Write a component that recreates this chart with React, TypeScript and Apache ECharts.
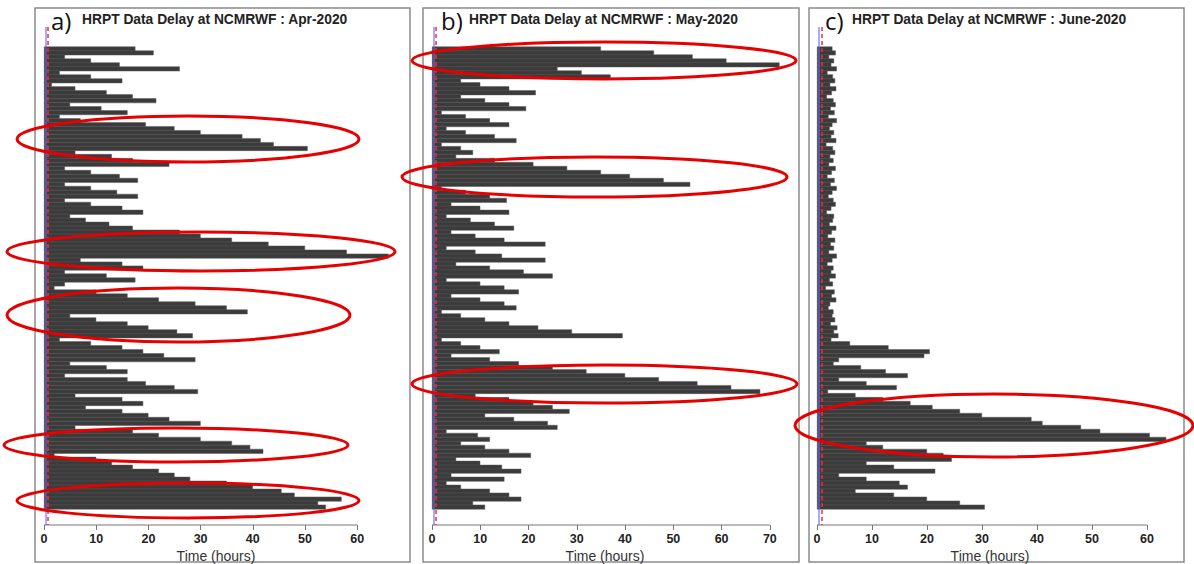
import React, { useEffect, useRef } from "react";
import * as echarts from "echarts";

// Delay (hours) of each received HRPT file, top to bottom
const delaysApr = [
  17.5, 21, 4, 9, 14.5, 26, 3, 9, 15, 1.5,
  6, 12, 17, 21.5, 5, 11, 16, 3, 7, 19.5,
  25, 30, 38, 41.5, 44, 50.5, 6, 13, 17, 24,
  4, 9, 14.5, 18, 4, 9, 14, 18, 4, 9,
  15, 19, 5, 8, 12.5, 17, 26, 30, 36, 43,
  50, 58, 66, 7, 15, 19, 4, 12, 17.5, 4,
  2, 10, 16, 22, 29, 35, 39, 5, 10, 16,
  20, 25.5, 28.5, 3, 9, 15, 19, 23, 29, 5,
  12, 16, 4, 16, 19.5, 25, 29.5, 6, 15, 19,
  8, 15, 20, 24, 30, 6, 17, 22, 30, 36,
  39.5, 42, 2, 10, 13, 17, 22, 25, 28, 35,
  40, 45.5, 48, 57, 52.5, 54,
];
const delaysMay = [
  35, 46, 54, 61, 72, 26, 31, 37, 6, 10,
  16, 21.5, 6, 11, 16, 19.5, 2, 7, 12, 16,
  3, 7, 13, 17.5, 2, 6, 8.5, 5, 13, 21,
  28, 35, 41, 48, 53.5, 2, 7, 12, 15.5, 4,
  10, 16, 3, 8, 13, 17, 4, 9, 15, 23.5,
  3, 9, 14.5, 23.5, 5, 12, 19, 25, 3, 10,
  15, 18, 4, 10, 15, 17.5, 2, 6, 11, 16,
  22, 29, 39.5, 2, 6, 10, 14, 4, 12, 18,
  25, 32, 40, 47, 55, 62, 68, 9, 16, 21,
  25, 28.5, 11, 17, 24, 26, 3, 9.5, 12, 6,
  11, 16, 20.5, 5, 10, 14.5, 18.5, 4, 15, 3,
  6, 12, 16, 18.5, 8.5, 11,
];
const delaysJun = [
  2.8, 3.4, 2.2, 3.1, 2.6, 3.6, 1.9, 2.9, 3.3, 2.4,
  3.5, 2.7, 1.8, 3.0, 3.4, 2.5, 3.2, 2.1, 3.6, 2.8,
  2.3, 3.1, 2.6, 3.5, 1.7, 2.9, 3.3, 2.4, 3.0, 2.2,
  3.4, 2.7, 1.9, 3.2, 2.5, 3.6, 2.8, 2.1, 3.0, 3.4,
  2.6, 1.8, 3.1, 2.9, 2.3, 3.5, 2.7, 2.0, 3.3, 2.5,
  3.1, 2.2, 3.6, 2.8, 1.9, 3.0, 2.6, 3.4, 2.3, 2.9,
  1.6, 3.2, 2.7, 3.5, 2.4, 2.1, 3.0, 2.8, 3.3, 2.5,
  3.7, 3.1, 3.9, 2.6,
  6, 13, 20.5, 19.5, 4, 3, 8, 12.5, 16.5, 4,
  9, 14.5, 2, 7, 12, 17, 21, 26, 30, 39,
  41, 48, 51.5, 60.5, 63.5, 9, 12, 20, 23, 24.5,
  9, 14, 21.5, 4, 9, 15, 16.5, 7, 14, 20,
  26, 30.5,
];

const titles = [
  "HRPT Data Delay at NCMRWF : Apr-2020",
  "HRPT Data Delay at NCMRWF : May-2020",
  "HRPT Data Delay at NCMRWF : June-2020",
];
const panelTags = ["a)", "b)", "c)"];
const ticksApr = [0, 10, 20, 30, 40, 50, 60];
const ticksMay = [0, 10, 20, 30, 40, 50, 60, 70];
const ticksJun = [0, 10, 20, 30, 40, 50, 60];
const xAxisName = "Time (hours)";
const refLineBlue = 0.3;
const refLineRed = 0.8;

const PAD_TOP = 5;
const PAD_BOTTOM = 4;

const panels = [
  {
    data: delaysApr, ticks: ticksApr, max: 68, left: 44, width: 355,
    frame: { x: 35, w: 375 }, tagX: 51, titleX: 82, xNameX: 216,
    ellipses: [
      [188, 139, 171, 23], [201, 251.5, 194, 19.5], [178.5, 315, 171.5, 27],
      [176, 445, 172, 17], [188, 500.5, 171, 17.5],
    ],
  },
  {
    data: delaysMay, ticks: ticksMay, max: 75, left: 432, width: 362,
    frame: { x: 423, w: 376 }, tagX: 441, titleX: 469, xNameX: 605,
    ellipses: [[604, 60.5, 192, 18.5], [594.5, 177, 192.5, 20], [604.5, 384, 192.5, 19]],
  },
  {
    data: delaysJun, ticks: ticksJun, max: 66, left: 817, width: 363,
    frame: { x: 809, w: 375 }, tagX: 825, titleX: 852, xNameX: 990,
    ellipses: [[994, 425.5, 199, 31.5]],
  },
];

const GRID_TOP = 27;
const GRID_H = 498;

export default function App() {
  const ref = useRef<HTMLDivElement>(null);
  useEffect(() => {
    if (!ref.current) return;
    const chart = echarts.init(ref.current, null, { renderer: "svg" });
    const grids: any[] = [];
    const xAxes: any[] = [];
    const yAxes: any[] = [];
    const series: any[] = [];
    panels.forEach((p, k) => {
      const padded = [
        ...Array(PAD_TOP).fill(null),
        ...p.data,
        ...Array(PAD_BOTTOM).fill(null),
      ];
      const cats = padded.map((_, i) => "r" + i);
      grids.push({ left: p.left, width: p.width, top: GRID_TOP, height: GRID_H });
      xAxes.push({
        type: "value", gridIndex: k, min: 0, max: p.max,
        splitLine: { show: false },
        axisLine: { show: false },
        axisTick: { show: true, customValues: p.ticks, length: 5, lineStyle: { color: "#777" } },
        axisLabel: {
          customValues: p.ticks, color: "#222", fontWeight: "bold", fontSize: 12.5,
          fontFamily: "Liberation Sans", margin: 7,
        },
      });
      yAxes.push({
        type: "category", gridIndex: k, data: cats, inverse: true, show: false,
      });
      series.push({
        type: "bar", xAxisIndex: k, yAxisIndex: k, data: padded,
        barWidth: 4.8,
        itemStyle: { color: "#3b3b3b", borderColor: "#595959", borderWidth: 0.5 },
        markLine: {
          silent: true, symbol: "none", label: { show: false },
          data: [
            { xAxis: refLineBlue, lineStyle: { color: "rgba(100,100,255,0.55)", width: 2, type: "solid" } },
            { xAxis: refLineRed, lineStyle: { color: "#ff2a2a", width: 1.5, type: [4, 3] } },
          ],
        },
      });
    });
    chart.setOption({
      animation: false,
      backgroundColor: "#ffffff",
      grid: grids, xAxis: xAxes, yAxis: yAxes, series,
    });

    const graphic: any[] = [];
    panels.forEach((p, k) => {
      const x0 = chart.convertToPixel({ xAxisIndex: k } as any, p.ticks[0]) as number;
      const x1 = chart.convertToPixel({ xAxisIndex: k } as any, p.ticks[p.ticks.length - 1]) as number;
      const yAx = GRID_TOP + GRID_H;
      graphic.push({
        type: "rect", shape: { x: p.frame.x, y: 8, width: p.frame.w, height: 554 },
        style: { fill: "none", stroke: "#8a8a8a", lineWidth: 1.5 }, z: 50,
      });
      graphic.push({
        type: "line", shape: { x1: x0, y1: yAx, x2: x1, y2: yAx },
        style: { stroke: "#777", lineWidth: 1 }, z: 50,
      });
      graphic.push({
        type: "text", x: p.tagX, y: 20,
        style: { text: panelTags[k], fontSize: 24, fontFamily: "Open Sans", fill: "#111", textVerticalAlign: "middle" },
        z: 50,
      });
      graphic.push({
        type: "text", x: p.titleX, y: 19,
        style: {
          text: titles[k], fontSize: 13.8, fontWeight: "bold", fontFamily: "Liberation Sans",
          fill: "#222", textVerticalAlign: "middle",
        },
        z: 50,
      });
      graphic.push({
        type: "text", x: p.xNameX, y: 556,
        style: {
          text: xAxisName, fontSize: 14, fontFamily: "Liberation Sans", fill: "#333",
          textAlign: "center", textVerticalAlign: "middle",
        },
        z: 50,
      });
      p.ellipses.forEach(([cx, cy, rx, ry]) => {
        graphic.push({
          type: "ellipse", shape: { cx, cy, rx, ry },
          style: { fill: "none", stroke: "#e60000", lineWidth: 3 }, z: 100,
        });
      });
    });
    chart.setOption({ graphic });
    return () => chart.dispose();
  }, []);
  return (
    <div
      ref={ref}
      style={{ position: "absolute", left: 0, top: 0, width: 1194, height: 564, background: "#fff" }}
    />
  );
}
